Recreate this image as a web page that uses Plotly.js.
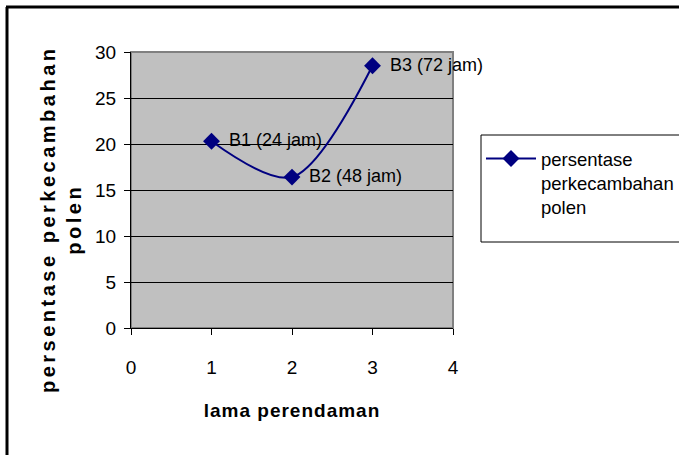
<!DOCTYPE html>
<html>
<head>
<meta charset="utf-8">
<script src="https://cdn.plot.ly/plotly-3.0.1.min.js"></script>
<style>html,body{margin:0;padding:0;background:#fff;}#chart{width:679px;height:455px;}</style>
</head>
<body>
<div id="chart"></div>
<script>
const xValues = [1, 2, 3];
const yValues = [20.3, 16.4, 28.5];
const pointLabels = ["B1 (24 jam)", "B2 (48 jam)", "B3 (72 jam)"];
const seriesName = "persentase<br>perkecambahan<br>polen";
const xTitle = "lama perendaman";
const yTitle = "persentase perkecambahan<br>polen";

const L = 131, R = 453, T = 52, B = 328, W = 679, H = 455;
const px = v => (v - L) / (R - L);
const py = v => (B - v) / (B - T);
const font = "Liberation Sans, Arial, sans-serif";

const trace = {
  x: xValues, y: yValues,
  type: "scatter", mode: "lines+markers",
  name: seriesName,
  line: {color: "#000080", width: 2, shape: "spline", smoothing: 0.9},
  marker: {symbol: "diamond", size: 13, color: "#000080"},
  cliponaxis: false
};

const labelAnnotations = xValues.map((xv, i) => ({
  x: xv, y: yValues[i], xref: "x", yref: "y",
  text: pointLabels[i], showarrow: false,
  xanchor: "left", yanchor: "middle", xshift: 15, yshift: 1,
  font: {family: font, size: 18, color: "#000"}
}));

const layout = {
  width: W, height: H,
  margin: {l: L, r: W - R, t: T, b: H - B, pad: 0, autoexpand: false},
  paper_bgcolor: "#fff",
  plot_bgcolor: "#C0C0C0",
  font: {family: font, size: 18, color: "#000"},
  showlegend: true,
  legend: {
    x: px(481), y: py(140), xanchor: "left", yanchor: "top",
    bgcolor: "rgba(0,0,0,0)", borderwidth: 0,
    font: {family: font, size: 18.5, color: "#000"},
    valign: "top", tracegroupgap: 0, itemwidth: 50
  },
  xaxis: {
    range: [0, 4], dtick: 1, tick0: 0,
    showgrid: false, zeroline: false,
    showline: true, linecolor: "#000", linewidth: 1,
    ticks: "outside", ticklen: 6, tickcolor: "#000",
    ticklabelstandoff: 16,
    tickfont: {family: font, size: 19},
    title: {text: xTitle, font: {family: font, size: 19, weight: "bold"}, standoff: 26},
    fixedrange: true
  },
  yaxis: {
    range: [0, 30], dtick: 5, tick0: 0,
    showgrid: true, gridcolor: "#000", gridwidth: 1,
    zeroline: false,
    showline: true, linecolor: "#000", linewidth: 1,
    ticks: "outside", ticklen: 6, tickcolor: "#000",
    ticklabelstandoff: 4,
    tickfont: {family: font, size: 19},
    fixedrange: true
  },
  annotations: [{
    text: yTitle, xref: "paper", yref: "paper",
    x: px(61), y: py(220), xanchor: "center", yanchor: "middle",
    textangle: -90, showarrow: false,
    font: {family: font, size: 20, weight: "bold"}
  }].concat(labelAnnotations),
  shapes: [
    {type: "rect", xref: "paper", yref: "paper", x0: 0, x1: 1, y0: 0, y1: 1,
     line: {color: "#808080", width: 2}, layer: "below"},
    {type: "rect", xref: "paper", yref: "paper", x0: px(481), x1: px(700), y0: py(135), y1: py(242),
     line: {color: "#000", width: 1}, fillcolor: "#fff", layer: "above"},
    {type: "line", xref: "paper", yref: "paper", x0: px(7), x1: px(7), y0: py(7), y1: py(460),
     line: {color: "#000", width: 3}},
    {type: "line", xref: "paper", yref: "paper", x0: px(6), x1: px(690), y0: py(7), y1: py(7),
     line: {color: "#000", width: 3}}
  ]
};

Plotly.newPlot("chart", [trace], layout, {staticPlot: true, displayModeBar: false}).then(() => {
  const a = document.querySelector(".annotation[data-index='0'] .annotation-text");
  if (a) a.style.letterSpacing = "3.5px";
  document.querySelectorAll(".g-xtitle text").forEach(t => t.style.letterSpacing = "1px");
});
</script>
</body>
</html>
